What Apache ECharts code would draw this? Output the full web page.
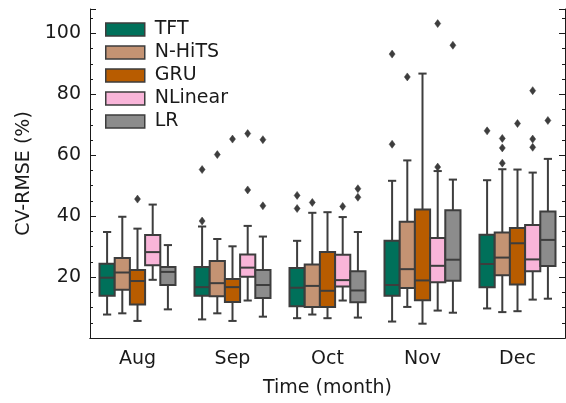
<!DOCTYPE html>
<html>
<head>
<meta charset="utf-8">
<script src="https://cdn.jsdelivr.net/npm/echarts@6/dist/echarts.min.js"></script>
<style>html,body{margin:0;padding:0;background:#fff;}#chart{width:566px;height:403px;}</style>
</head>
<body>
<div id="chart"></div>
<script>
const months = ['Aug', 'Sep', 'Oct', 'Nov', 'Dec'];
const models = ['TFT', 'N-HiTS', 'GRU', 'NLinear', 'LR'];
const colors = ['#00705a', '#c49373', '#b85c00', '#f9b5d9', '#8c8c8c'];

// [min, Q1, median, Q3, max] per month (Aug..Dec)
const tftBoxes = [[7.7, 13.9, 19.8, 24.4, 34.8], [6.1, 13.9, 16.7, 23.3, 36.6], [6.5, 10.4, 16.5, 23.0, 31.9], [5.4, 13.9, 17.4, 31.9, 51.6], [9.7, 16.7, 24.3, 33.9, 51.8]];
const nhitsBoxes = [[8.1, 15.8, 21.5, 26.3, 39.8], [8.1, 13.7, 18.0, 25.3, 32.5], [7.7, 10.2, 17.1, 24.1, 41.1], [10.2, 16.4, 22.6, 38.2, 58.3], [8.5, 20.6, 26.4, 34.6, 55.4]];
const gruBoxes = [[5.6, 11.0, 18.7, 22.3, 35.9], [5.6, 11.8, 16.7, 19.4, 30.1], [6.5, 10.2, 15.5, 28.2, 41.3], [4.7, 12.4, 18.9, 42.2, 86.8], [8.8, 17.6, 31.1, 36.1, 55.3]];
const nlinearBoxes = [[19.1, 23.9, 28.2, 33.8, 43.8], [12.3, 20.1, 23.1, 27.4, 36.8], [12.3, 16.9, 19.0, 27.3, 39.7], [9.0, 18.3, 23.7, 32.8, 54.8], [12.6, 21.9, 25.8, 37.1, 54.3]];
const lrBoxes = [[9.4, 17.4, 21.7, 23.3, 30.5], [7.0, 13.1, 17.4, 22.3, 33.3], [6.7, 11.7, 15.6, 21.9, 34.8], [8.3, 18.8, 25.7, 41.9, 52.0], [12.9, 23.6, 32.2, 41.5, 58.8]];

// outliers: [monthIndex, value]
const tftOutliers = [[1, 55.3], [1, 38.4], [2, 46.8], [2, 42.5], [3, 93.2], [3, 63.6], [4, 68.0]];
const nhitsOutliers = [[1, 60.2], [2, 44.5], [3, 85.7], [4, 65.5], [4, 62.4], [4, 57.4]];
const gruOutliers = [[0, 45.6], [1, 65.3], [4, 70.4]];
const nlinearOutliers = [[1, 67.1], [1, 48.6], [2, 43.2], [3, 103.2], [3, 56.1], [4, 81.2], [4, 65.3], [4, 62.6]];
const lrOutliers = [[1, 65.1], [1, 43.4], [2, 49.0], [2, 46.2], [3, 96.1], [4, 71.4]];

const yTicks = { min: 0, max: 108, interval: 20 };

const boxLists = [tftBoxes, nhitsBoxes, gruBoxes, nlinearBoxes, lrBoxes];
const outlierLists = [tftOutliers, nhitsOutliers, gruOutliers, nlinearOutliers, lrOutliers];
const edge = '#3d3d3d';
const ink = '#1a1a1a';
const FONT = 'DejaVu Sans';
const FS = 19;

function boxRender(k) {
  return function (params, api) {
    const idx = api.value(0);
    const band = api.size([1, 0])[0];
    const w = band * 0.8 / models.length;
    const cx = api.coord([idx, 0])[0] + (k - (models.length - 1) / 2) * w;
    const yMin = api.coord([idx, api.value(1)])[1];
    const yQ1 = api.coord([idx, api.value(2)])[1];
    const yMed = api.coord([idx, api.value(3)])[1];
    const yQ3 = api.coord([idx, api.value(4)])[1];
    const yMax = api.coord([idx, api.value(5)])[1];
    const half = w / 2;
    const cap = w * 0.27;
    const ls = { stroke: edge, lineWidth: 2 };
    return {
      type: 'group',
      children: [
        { type: 'line', shape: { x1: cx, y1: yQ1, x2: cx, y2: yMin }, style: ls },
        { type: 'line', shape: { x1: cx, y1: yQ3, x2: cx, y2: yMax }, style: ls },
        { type: 'line', shape: { x1: cx - cap, y1: yMin, x2: cx + cap, y2: yMin }, style: ls },
        { type: 'line', shape: { x1: cx - cap, y1: yMax, x2: cx + cap, y2: yMax }, style: ls },
        { type: 'rect', shape: { x: cx - half, y: yQ3, width: w, height: yQ1 - yQ3 }, style: { fill: colors[k], stroke: edge, lineWidth: 2 } },
        { type: 'line', shape: { x1: cx - half, y1: yMed, x2: cx + half, y2: yMed }, style: ls }
      ]
    };
  };
}

function outlierRender(k) {
  return function (params, api) {
    const idx = api.value(0);
    const band = api.size([1, 0])[0];
    const w = band * 0.8 / models.length;
    const p = api.coord([idx, api.value(1)]);
    const cx = p[0] + (k - (models.length - 1) / 2) * w;
    const cy = p[1];
    return {
      type: 'polygon',
      shape: { points: [[cx, cy - 4], [cx + 3, cy], [cx, cy + 4], [cx - 3, cy]] },
      style: { fill: edge, stroke: edge, lineWidth: 0.5 }
    };
  };
}

const series = [];
models.forEach(function (m, k) {
  series.push({
    name: m,
    type: 'custom',
    xAxisIndex: 0,
    yAxisIndex: 0,
    itemStyle: { color: colors[k], borderColor: edge, borderWidth: 2 },
    renderItem: boxRender(k),
    encode: { x: 0, y: [1, 2, 3, 4, 5] },
    data: boxLists[k].map(function (b, i) { return [i].concat(b); }),
    z: 2
  });
});
models.forEach(function (m, k) {
  series.push({
    name: m + ' outliers',
    type: 'custom',
    xAxisIndex: 0,
    yAxisIndex: 0,
    renderItem: outlierRender(k),
    encode: { x: 0, y: 1 },
    data: outlierLists[k],
    z: 3
  });
});

const chart = echarts.init(document.getElementById('chart'));
chart.setOption({
  animation: false,
  backgroundColor: '#fff',
  textStyle: { fontFamily: FONT },
  grid: { left: 90, right: 1, top: 9, bottom: 60, containLabel: false },
  legend: {
    orient: 'vertical',
    left: 100,
    top: 15,
    itemWidth: 39,
    itemHeight: 13,
    itemGap: 4,
    icon: 'rect',
    textStyle: { fontSize: FS, color: ink, fontFamily: FONT, padding: [0, 0, 0, 5] },
    data: models.map(function (m, k) {
      return { name: m, icon: 'rect', itemStyle: { color: colors[k], borderColor: edge, borderWidth: 1.5 } };
    })
  },
  xAxis: [
    {
      type: 'category',
      data: months,
      position: 'bottom',
      axisLine: { lineStyle: { color: ink, width: 1 } },
      axisTick: { inside: true, alignWithLabel: true, length: 5, lineStyle: { color: ink } },
      axisLabel: { fontSize: FS, color: ink, margin: 12, fontFamily: FONT },
      name: 'Time (month)',
      nameLocation: 'middle',
      nameGap: 41,
      nameTextStyle: { fontSize: FS, color: ink, fontFamily: FONT },
      splitLine: { show: false }
    },
    {
      type: 'category',
      data: months,
      position: 'top',
      axisLine: { lineStyle: { color: ink, width: 1 } },
      axisTick: { inside: true, alignWithLabel: true, length: 5, lineStyle: { color: ink } },
      axisLabel: { show: false },
      splitLine: { show: false }
    }
  ],
  yAxis: [
    {
      type: 'value',
      min: yTicks.min,
      max: yTicks.max,
      interval: yTicks.interval,
      position: 'left',
      axisLine: { show: true, lineStyle: { color: ink, width: 1 } },
      axisTick: { show: true, inside: true, length: 6, lineStyle: { color: ink } },
      minorTick: { show: true, splitNumber: 4, length: 3, lineStyle: { color: ink } },
      axisLabel: { fontSize: FS, color: ink, margin: 9, showMinLabel: false, showMaxLabel: false, fontFamily: FONT },
      splitLine: { show: false },
      name: 'CV-RMSE (%)',
      nameLocation: 'middle',
      nameRotate: 90,
      nameGap: 55,
      nameTextStyle: { fontSize: FS, color: ink, fontFamily: FONT }
    },
    {
      type: 'value',
      min: yTicks.min,
      max: yTicks.max,
      interval: yTicks.interval,
      position: 'right',
      axisLine: { show: true, lineStyle: { color: ink, width: 1 } },
      axisTick: { show: true, inside: true, length: 6, lineStyle: { color: ink } },
      minorTick: { show: true, splitNumber: 4, length: 3, lineStyle: { color: ink } },
      axisLabel: { show: false },
      splitLine: { show: false }
    }
  ],
  series: series
});
</script>
</body>
</html>
